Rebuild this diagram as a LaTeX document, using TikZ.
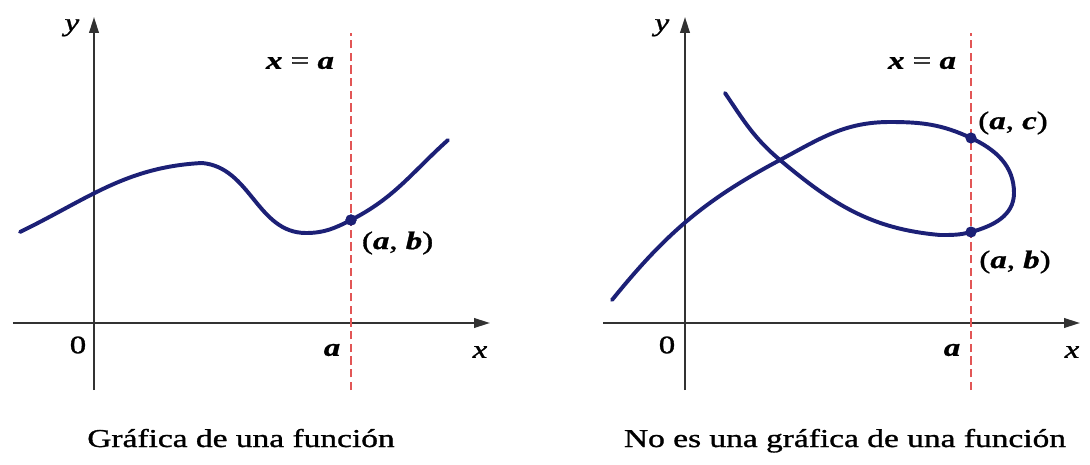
\documentclass[tikz,border=0pt]{standalone}
\usepackage{fontspec}
\setmainfont{Liberation Serif}[FakeBold=1]
\usepackage{tikz}
\usetikzlibrary{positioning, arrows.meta}

\definecolor{curveblue}{RGB}{28,32,118}
\definecolor{dashred}{RGB}{226,86,86}
\definecolor{axisgray}{RGB}{50,50,50}
\newcommand{\wide}[1]{\scalebox{1.3}[1]{#1}}
\newcommand{\bi}[1]{\textbf{\textit{#1}}}

\begin{document}
\begin{tikzpicture}[
    axis/.style={draw=axisgray, line width=1.4pt, -{Triangle[length=4mm, width=2.4mm]}},
    vline/.style={draw=dashred, line width=1.1pt, dash pattern=on 6pt off 3pt},
    graph/.style={draw=curveblue, line width=2.8pt, line cap=round},
    dot/.style={circle, fill=curveblue, inner sep=0pt, minimum size=2.8mm},
    lbl/.style={font=\fontsize{18}{20}\selectfont, inner sep=0pt},
    caption/.style={font=\fontsize{18.3}{22}\selectfont, inner sep=0pt, anchor=base}
]
\useasboundingbox (-2.35,-3.525) rectangle (24.9,8.075);

% left: a function
\coordinate (x1s) at (-2.025,0);
\coordinate (x1e) at (9.9,0);
\coordinate (y1s) at (0,-1.675);
\coordinate (y1e) at (0,7.65);
\coordinate (v1s) at (6.425,-1.675);
\coordinate (v1e) at (6.425,7.25);

\draw[axis] (x1s) -- (x1e);
\draw[axis] (y1s) -- (y1e);
\draw[vline] (v1s) -- (v1e);

\node[dot] (ab1) at (6.425,2.575) {};
\draw[graph] (-1.85,2.275) to[out=26,in=183] (2.7,4.0) to[out=-5,in=180] (5.3,2.25)
    to[out=0,in=207] (ab1.center) to[out=27,in=222] (8.85,4.575);
\node[dot] at (ab1) {};

\node[lbl] (ylab1) at (-0.55,7.38) {\wide{\textit{y}}};
\node[lbl] (xlab1) at (9.65,-0.725) {\wide{\textit{x}}};
\node[lbl] (zero1) at (-0.4,-0.55) {\wide{0}};
\node[lbl] (alab1) at (5.95,-0.675) {\wide{\bi{a}}};
\node[lbl] (line1) at (5.15,6.5) {\wide{\bi{x} = \bi{a}}};
\node[lbl] (ptab1) at (7.59,2.0) {\wide{(\bi{a}, \bi{b})}};
\node[caption] (cap1) at (3.675,-3.1) {\wide{Gráfica de una función}};

% right: not a function
\begin{scope}[xshift=14.775cm]
\coordinate (x2s) at (-2.05,0);
\coordinate (x2e) at (9.875,0);
\coordinate (y2s) at (0,-1.675);
\coordinate (y2e) at (0,7.65);
\coordinate (v2s) at (7.15,-1.675);
\coordinate (v2e) at (7.15,7.25);

\draw[axis] (x2s) -- (x2e);
\draw[axis] (y2s) -- (y2e);
\draw[vline] (v2s) -- (v2e);

\coordinate (ac2) at (7.15,4.625);
\coordinate (ab2) at (7.15,2.275);
\draw[graph] (-1.825,0.575) to[out=51,in=208] (2.375,4.075)
    to[out=28,in=180] (5.125,5.025) to[out=0,in=155] (ac2) to[out=-25,in=90] (8.225,3.25)
    to[out=-90,in=15] (ab2) to[out=195,in=0] (6.375,2.2) to[out=175,in=-40] (2.375,4.075)
    to[out=140,in=-56] (1.0,5.75);
\node[dot] (acdot2) at (ac2) {};
\node[dot] (abdot2) at (ab2) {};

\node[lbl] (ylab2) at (-0.575,7.38) {\wide{\textit{y}}};
\node[lbl] (xlab2) at (9.675,-0.725) {\wide{\textit{x}}};
\node[lbl] (zero2) at (-0.45,-0.55) {\wide{0}};
\node[lbl] (alab2) at (6.675,-0.675) {\wide{\bi{a}}};
\node[lbl] (line2) at (5.925,6.5) {\wide{\bi{x} = \bi{a}}};
\node[lbl] (ptac2) at (8.2,5.0) {\wide{(\bi{a}, \bi{c})}};
\node[lbl] (ptab2) at (8.25,1.525) {\wide{(\bi{a}, \bi{b})}};
\node[caption] (cap2) at (4.0,-3.1) {\wide{No es una gráfica de una función}};
\end{scope}

\end{tikzpicture}
\end{document}
